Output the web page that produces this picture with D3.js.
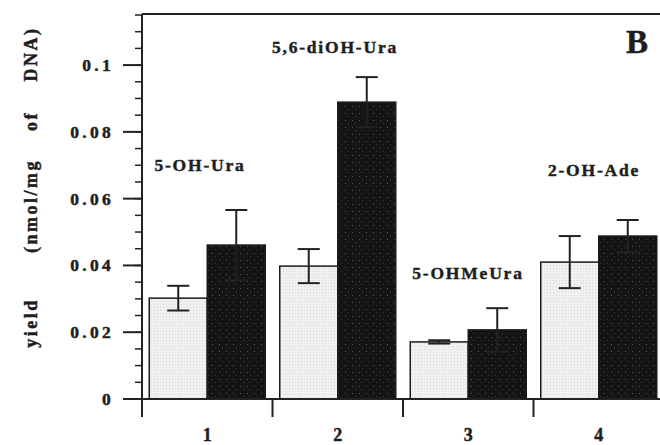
<!DOCTYPE html>
<html><head><meta charset="utf-8">
<script src="https://cdn.jsdelivr.net/npm/d3@7"></script>
<style>
html,body{margin:0;padding:0;background:#fff;}
svg text{font-family:"Liberation Serif","Times New Roman",serif;font-weight:700;fill:#1e1e1e;stroke:#1e1e1e;stroke-width:0.45px;}
</style></head>
<body>
<script>
const categories = ["1","2","3","4"];
const compounds = ["5-OH-Ura","5,6-diOH-Ura","5-OHMeUra","2-OH-Ade"];
const lightValues = [0.0302,0.0398,0.0171,0.0410];
const lightErrors = [0.0037,0.0051,0.0005,0.0078];
const darkValues = [0.0461,0.0889,0.0207,0.0488];
const darkErrors = [0.0105,0.0075,0.0065,0.0048];
const yTicks = [0,0.02,0.04,0.06,0.08,0.1];
const yTickLabels = ["0","0.02","0.04","0.06","0.08","0.1"];
const panelLabel = "B";
const yTitleWords = ["yield","(nmol/mg","of","DNA)"];

const W=660,H=445;
const svg=d3.select("body").append("svg").attr("width",W).attr("height",H);

const defs=svg.append("defs");
const pl=defs.append("pattern").attr("id","lightPat").attr("width",3).attr("height",3).attr("patternUnits","userSpaceOnUse");
pl.append("rect").attr("width",3).attr("height",3).attr("fill","#f0f0f0");
pl.append("rect").attr("x",1).attr("y",1).attr("width",1).attr("height",1).attr("fill","#dadada");
const pd=defs.append("pattern").attr("id","darkPat").attr("width",7).attr("height",7).attr("patternUnits","userSpaceOnUse");
pd.append("rect").attr("width",7).attr("height",7).attr("fill","#141414");
pd.append("rect").attr("x",2).attr("y",1).attr("width",1).attr("height",1).attr("fill","#555");
pd.append("rect").attr("x",5).attr("y",4).attr("width",1).attr("height",1).attr("fill","#3a3a3a");

const x0=142, xEnd=664, yBase=399, yTop=14;
const x=d3.scaleBand().domain(categories).range([x0,xEnd]);
const sub=d3.scaleBand().domain(["light","dark"]).range([0,x.bandwidth()]).paddingOuter(0.125).paddingInner(0);
const y=d3.scaleLinear().domain([0,0.1153]).range([yBase,yTop]);

const g=svg.append("g");
categories.forEach((c,i)=>{
  [["light",lightValues[i],lightErrors[i],"url(#lightPat)"],["dark",darkValues[i],darkErrors[i],"url(#darkPat)"]].forEach(([k,v,e,f])=>{
    const bx=x(c)+sub(k), bw=sub.bandwidth();
    g.append("rect").attr("x",bx).attr("y",y(v)).attr("width",bw).attr("height",yBase-y(v))
      .attr("fill",f).attr("stroke","#1a1a1a").attr("stroke-width",1.5);
    const cx=bx+bw/2;
    const eg=g.append("g").attr("stroke","#222").attr("stroke-width",2);
    eg.append("line").attr("x1",cx).attr("x2",cx).attr("y1",y(v+e)).attr("y2",y(v-e));
    eg.append("line").attr("x1",cx-11).attr("x2",cx+11).attr("y1",y(v+e)).attr("y2",y(v+e));
    eg.append("line").attr("x1",cx-11).attr("x2",cx+11).attr("y1",y(v-e)).attr("y2",y(v-e));
  });
});

const minor=d3.range(0,0.1151,0.005);
const ax=svg.append("g").attr("stroke","#222");
ax.append("line").attr("x1",x0).attr("x2",x0).attr("y1",yTop).attr("y2",417).attr("stroke-width",2);
ax.append("line").attr("x1",x0).attr("x2",W).attr("y1",yTop).attr("y2",yTop).attr("stroke-width",2);
ax.append("line").attr("x1",x0).attr("x2",W).attr("y1",yBase).attr("y2",yBase).attr("stroke-width",2);
minor.forEach(t=>{
  ax.append("line").attr("x1",x0-7).attr("x2",x0).attr("y1",y(t)).attr("y2",y(t)).attr("stroke-width",1.5);
});
yTicks.forEach((t,i)=>{
  ax.append("line").attr("x1",x0-19).attr("x2",x0).attr("y1",y(t)).attr("y2",y(t)).attr("stroke-width",2);
  svg.append("text").attr("x",114).attr("y",y(t)+6).attr("text-anchor","end")
    .attr("font-size",17.5).attr("letter-spacing",3.3).text(yTickLabels[i]);
});
categories.forEach(c=>{
  ax.append("line").attr("x1",x(c)).attr("x2",x(c)).attr("y1",yBase).attr("y2",417).attr("stroke-width",2);
  svg.append("text").attr("x",x(c)+x.bandwidth()/2).attr("y",441).attr("text-anchor","middle")
    .attr("font-size",18).text(c);
});

const labPos=[[200,171],[335,53],[468,279],[594,176]];
compounds.forEach((t,i)=>{
  svg.append("text").attr("x",labPos[i][0]).attr("y",labPos[i][1]).attr("text-anchor","middle")
    .attr("font-size",17.5).attr("letter-spacing",1.8).text(t);
});
svg.append("text").attr("x",637).attr("y",53).attr("text-anchor","middle").attr("font-size",33).text(panelLabel);

const titleCenters=[323,206,121,54];
yTitleWords.forEach((w,i)=>{
  svg.append("text").attr("transform",`translate(37,${titleCenters[i]}) rotate(-90)`).attr("text-anchor","middle")
    .attr("font-size",18).attr("letter-spacing",2.5).text(w);
});
</script>
</body></html>
